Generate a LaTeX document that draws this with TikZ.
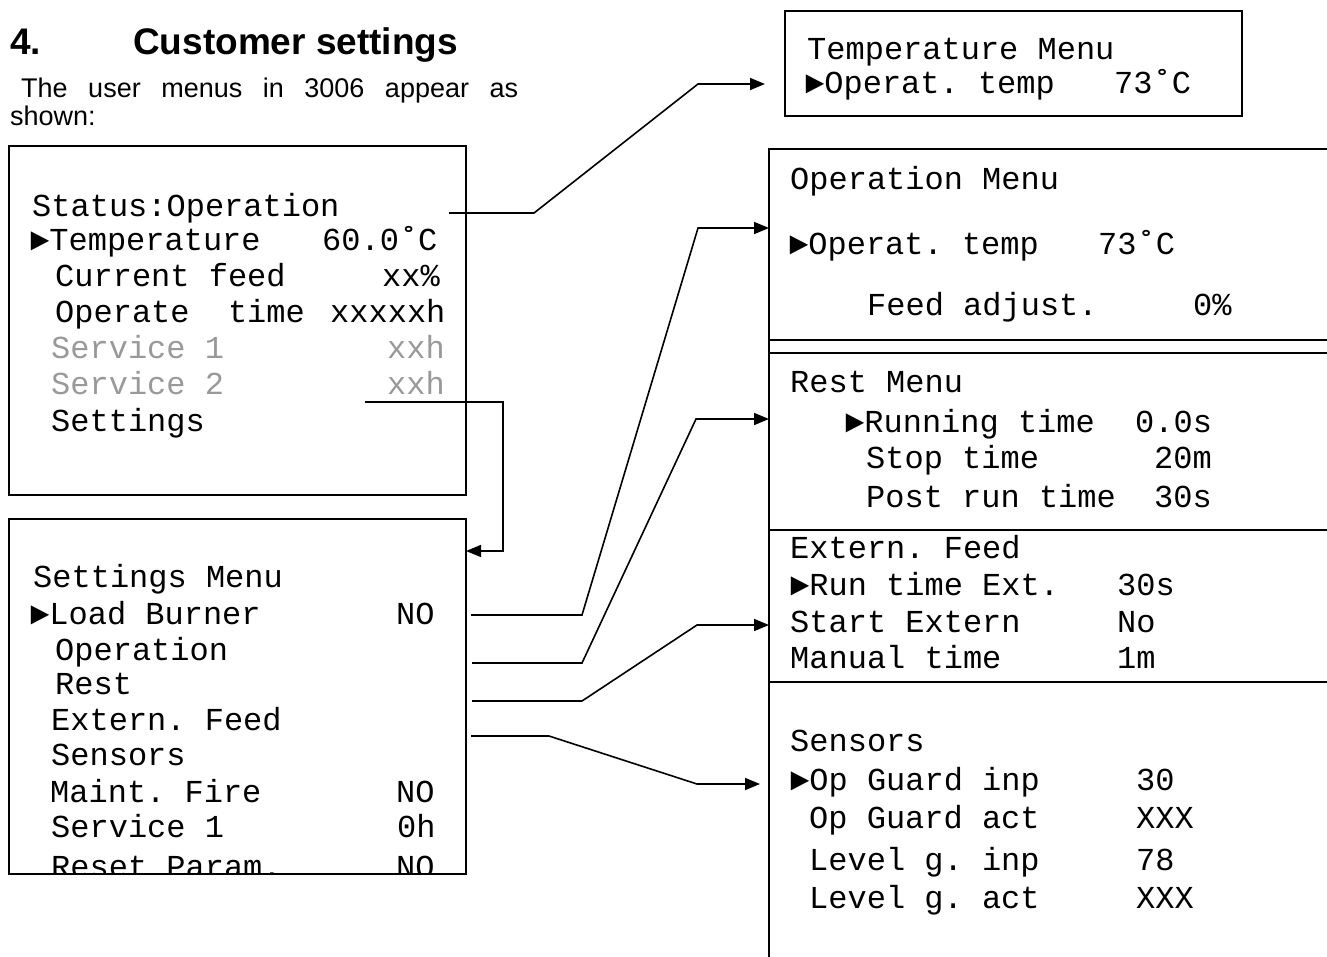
\documentclass[tikz,border=0pt]{standalone}
\usepackage{fontspec}
\setmainfont{Liberation Sans}
\newfontfamily\lcdfont{Liberation Mono}
\usetikzlibrary{arrows.meta}
\frenchspacing

\tikzset{
  menu/.style={font=\lcdfont\fontsize{32}{36}\selectfont, anchor=base west, inner sep=0pt},
  faded/.style={menu, text=black!40},
  frame/.style={line width=1.6pt},
  link/.style={line width=1.6pt, -{Triangle[length=15pt,width=12pt]}}
}

\begin{document}
\begin{tikzpicture}[x=1pt,y=-1pt]
    \useasboundingbox (0,0) rectangle (1327,956);

    % heading
    \begin{scope}[every node/.style={anchor=base west, inner sep=0pt}]
	\node[font=\bfseries\fontsize{37}{44}\selectfont] (num) at (10,54) {4.};
	\node[font=\bfseries\fontsize{37}{44}\selectfont] (head) at (133,54) {Customer settings};
	\node[font=\fontsize{27}{31}\selectfont] (intro) at (21,97) {\makebox[497pt][s]{The user menus in 3006 appear as}};
	\node[font=\fontsize{27}{31}\selectfont] (shown) at (10,125) {shown:};
    \end{scope}

    % status display
    \begin{scope}
	\draw[frame] (9,146) rectangle (466,495);
	\node[menu] (st0) at (32,216) {Status:Operation};
	\node[menu] (st1) at (30,250) {►Temperature};
	\node[menu] (st1v) at (322,250) {60.0˚C};
	\node[menu] (st2) at (55,286) {Current feed};
	\node[menu] (st2v) at (382,286) {xx\%};
	\node[menu] (st3) at (55,322) {Operate~~time};
	\node[menu] (st3v) at (330,322) {xxxxxh};
	\node[faded] (st4) at (51,358) {Service 1};
	\node[faded] (st4v) at (387,358) {xxh};
	\node[faded] (st5) at (51,394) {Service 2};
	\node[faded] (st5v) at (387,394) {xxh};
	\node[menu] (st6) at (51,431) {Settings};
    \end{scope}

    % settings menu
    \begin{scope}
	\clip (9,519) rectangle (466,874);
	\node[menu] (se0) at (33,587) {Settings Menu};
	\node[menu] (se1) at (30,624) {►Load Burner};
	\node[menu] (se1v) at (396,624) {NO};
	\node[menu] (se2) at (55,660) {Operation};
	\node[menu] (se3) at (55,694) {Rest};
	\node[menu] (se4) at (51,730) {Extern. Feed};
	\node[menu] (se5) at (51,765) {Sensors};
	\node[menu] (se6) at (50,802) {Maint. Fire};
	\node[menu] (se6v) at (396,802) {NO};
	\node[menu] (se7) at (51,837) {Service 1};
	\node[menu] (se7v) at (397,837) {0h};
	\node[menu] (se8) at (51,877) {Reset Param.};
	\node[menu] (se8v) at (396,877) {NO};
    \end{scope}
    \draw[frame] (9,519) rectangle (466,874);

    % temperature menu
    \begin{scope}
	\draw[frame] (785,11) rectangle (1242,116);
	\node[menu] (tm0) at (807,59) {Temperature Menu};
	\node[menu] (tm1) at (805,93) {►Operat. temp};
	\node[menu] (tm1v) at (1114,93) {73˚C};
    \end{scope}

    % right hand column
    \draw[frame] (1328,149) -- (769,149) -- (769,957);
    \foreach \y in {340,353,530,682}
	\draw[frame] (769,\y) -- (1328,\y);

    \begin{scope}
	\node[menu] (op0) at (790,189) {Operation Menu};
	\node[menu] (op1) at (789,254) {►Operat. temp};
	\node[menu] (op1v) at (1098,254) {73˚C};
	\node[menu] (op2) at (867,315) {Feed adjust.};
	\node[menu] (op2v) at (1193,315) {0\%};
    \end{scope}
    \begin{scope}
	\node[menu] (re0) at (790,392) {Rest Menu};
	\node[menu] (re1) at (845,432) {►Running time};
	\node[menu] (re1v) at (1135,432) {0.0s};
	\node[menu] (re2) at (866,468) {Stop time};
	\node[menu] (re2v) at (1154,468) {20m};
	\node[menu] (re3) at (866,507) {Post run time};
	\node[menu] (re3v) at (1154,507) {30s};
    \end{scope}
    \begin{scope}
	\node[menu] (ex0) at (790,558) {Extern. Feed};
	\node[menu] (ex1) at (790,595) {►Run time Ext.};
	\node[menu] (ex1v) at (1117,595) {30s};
	\node[menu] (ex2) at (790,632) {Start Extern};
	\node[menu] (ex2v) at (1117,632) {No};
	\node[menu] (ex3) at (790,668) {Manual time};
	\node[menu] (ex3v) at (1117,668) {1m};
    \end{scope}
    \begin{scope}
	\node[menu] (sn0) at (790,751) {Sensors};
	\node[menu] (sn1) at (790,790) {►Op Guard inp};
	\node[menu] (sn1v) at (1136,790) {30};
	\node[menu] (sn2) at (809,828) {Op Guard act};
	\node[menu] (sn2v) at (1136,828) {XXX};
	\node[menu] (sn3) at (809,870) {Level g. inp};
	\node[menu] (sn3v) at (1136,870) {78};
	\node[menu] (sn4) at (809,908) {Level g. act};
	\node[menu] (sn4v) at (1136,908) {XXX};
    \end{scope}

    % links
    \coordinate (a0) at (449,213);
    \coordinate (a1) at (765,84);
    \draw[link] (a0) -- (534,213) -- (698,84) -- (a1);
    \coordinate (b0) at (365,402);
    \coordinate (b1) at (466,551);
    \draw[link] (b0) -- (503,402) -- (503,551) -- (b1);
    \coordinate (c0) at (471,615);
    \coordinate (c1) at (769,228);
    \draw[link] (c0) -- (582,615) -- (698,228) -- (c1);
    \coordinate (d0) at (472,663);
    \coordinate (d1) at (769,419);
    \draw[link] (d0) -- (582,663) -- (696,419) -- (d1);
    \coordinate (e0) at (472,701);
    \coordinate (e1) at (769,625);
    \draw[link] (e0) -- (582,701) -- (697,625) -- (e1);
    \coordinate (f0) at (471,736);
    \coordinate (f1) at (760,784);
    \draw[link] (f0) -- (549,736) -- (697,784) -- (f1);
\end{tikzpicture}
\end{document}
